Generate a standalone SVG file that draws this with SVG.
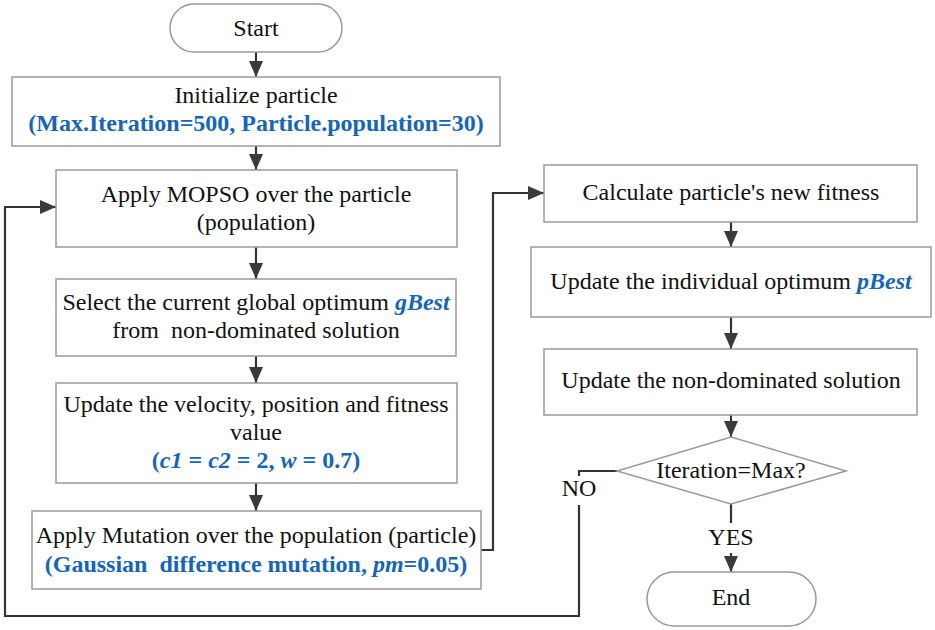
<svg xmlns="http://www.w3.org/2000/svg" width="935" height="630" viewBox="0 0 935 630">
<defs>
<marker id="ah" viewBox="0 0 16 14" refX="16" refY="7" markerWidth="16" markerHeight="14" markerUnits="userSpaceOnUse" orient="auto">
<path d="M0,0 L16,7 L0,14 Z" fill="#3a3a3a"/>
</marker>
<style>
.box{fill:#fff;stroke:#9a9a9a;stroke-width:1.5}
.t{font-family:"Liberation Serif","Times New Roman",serif;font-size:24px;fill:#111;text-anchor:middle}
.b{fill:#1565b8;font-weight:bold}
.i{font-style:italic}
.c{fill:none;stroke:#333;stroke-width:2.2}
.a{marker-end:url(#ah)}
</style>
</defs>
<rect width="935" height="630" fill="#fff"/>
<g id="connectors">
<line class="c a" x1="256" y1="52" x2="256" y2="77"/>
<line class="c a" x1="256" y1="146" x2="256" y2="170"/>
<line class="c a" x1="256" y1="247" x2="256" y2="279"/>
<line class="c a" x1="256" y1="356" x2="256" y2="383"/>
<line class="c a" x1="256" y1="483" x2="256" y2="511"/>
<polyline class="c a" points="481,550 493,550 493,193 544,193"/>
<line class="c a" x1="731" y1="222" x2="731" y2="247"/>
<line class="c a" x1="731" y1="317" x2="731" y2="349"/>
<line class="c a" x1="731" y1="415" x2="731" y2="437"/>
<line class="c" x1="731" y1="504" x2="731" y2="523"/>
<line class="c a" x1="731" y1="553" x2="731" y2="572"/>
<polyline class="c" points="617,471 579,471 579,476"/>
<polyline class="c a" points="579,505 579,616 5,616 5,207 56,207"/>
<text class="t" x="579" y="496">NO</text>
<text class="t" x="731" y="545">YES</text>
</g>
<g id="start"><rect class="box" x="170" y="4" width="172" height="48" rx="24"/><text class="t" x="256" y="36">Start</text></g>
<g id="init"><rect class="box" x="12" y="77" width="488" height="69"/><text class="t" x="256" y="103">Initialize particle</text><text class="t b" x="256" y="131">(Max.Iteration=500, Particle.population=30)</text></g>
<g id="mopso"><rect class="box" x="56" y="170" width="401" height="77"/><text class="t" x="256" y="202">Apply MOPSO over the particle</text><text class="t" x="256" y="230">(population)</text></g>
<g id="select"><rect class="box" x="56" y="279" width="400" height="77"/><text class="t" x="256" y="310">Select the current global optimum <tspan class="b i">gBest</tspan></text><text class="t" x="256" y="338" xml:space="preserve">from  non-dominated solution</text></g>
<g id="update"><rect class="box" x="56" y="383" width="401" height="100"/><text class="t" x="256" y="412">Update the velocity, position and fitness</text><text class="t" x="256" y="440">value</text><text class="t b" x="256" y="468">(<tspan class="i">c1</tspan> = <tspan class="i">c2</tspan> = 2, <tspan class="i">w</tspan> = 0.7)</text></g>
<g id="mutation"><rect class="box" x="32" y="511" width="449" height="78"/><text class="t" x="256" y="543">Apply Mutation over the population (particle)</text><text class="t b" x="256" y="572" xml:space="preserve">(Gaussian  difference mutation, <tspan class="i">pm</tspan>=0.05)</text></g>
<g id="calc"><rect class="box" x="544" y="165" width="373" height="57"/><text class="t" x="731" y="200">Calculate particle's new fitness</text></g>
<g id="pbest"><rect class="box" x="531" y="247" width="400" height="70"/><text class="t" x="731" y="289">Update the individual optimum <tspan class="b i">pBest</tspan></text></g>
<g id="nondom"><rect class="box" x="544" y="349" width="373" height="66"/><text class="t" x="731" y="388">Update the non-dominated solution</text></g>
<g id="decision"><polygon class="box" points="731,437 846,471 731,504 617,471"/><text class="t" x="731" y="478">Iteration=Max?</text></g>
<g id="end"><rect class="box" x="647" y="572" width="169" height="54" rx="27"/><text class="t" x="731" y="605">End</text></g>
</svg>
